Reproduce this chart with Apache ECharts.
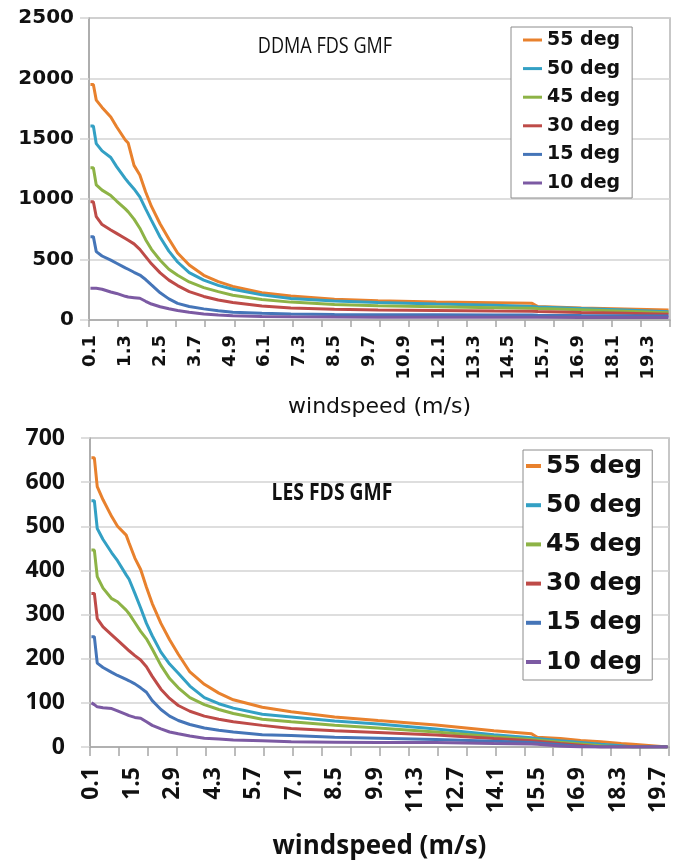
<!DOCTYPE html>
<html>
<head>
<meta charset="utf-8">
<script src="https://cdn.jsdelivr.net/npm/echarts@6/dist/echarts.min.js"></script>
<style>
  html, body { margin: 0; padding: 0; background: #ffffff; }
  #chart { width: 689px; height: 863px; }
</style>
</head>
<body>
<div id="chart"></div>
<script>
// Wind-speed categories, 0.1 m/s steps from 0.1 to 20.0
const speedStep = 0.1;
const speedCount = 200;
const windspeeds = [];
for (let i = 0; i < speedCount; i++) windspeeds.push(((i + 1) * speedStep).toFixed(1));

const seriesNames = ['55 deg', '50 deg', '45 deg', '30 deg', '15 deg', '10 deg'];
const seriesColors = ['#E8812D', '#33A0C4', '#8DB346', '#BE4B48', '#4575B8', '#7C5AA3'];

// DDMA FDS GMF curves
const ddmaSpeeds = [0.1, 0.2, 0.3, 0.5, 0.8, 1.0, 1.3, 1.4, 1.6, 1.8, 2.0, 2.2, 2.5, 2.8, 3.1, 3.5, 4.0, 4.5, 5.0, 6.0, 7.0, 8.5, 10.0, 12.0, 14.0, 15.3, 15.5, 17.0, 18.5, 20.0];
const ddma55 = [1950, 1950, 1820, 1760, 1680, 1600, 1490, 1465, 1280, 1200, 1060, 940, 795, 670, 555, 455, 370, 318, 278, 226, 198, 172, 160, 150, 143, 138, 112, 100, 92, 83];
const ddma50 = [1606, 1606, 1460, 1400, 1345, 1270, 1170, 1140, 1085, 1020, 920, 825, 685, 570, 480, 392, 330, 287, 255, 208, 178, 157, 145, 133, 122, 112, 108, 95, 82, 69];
const ddma45 = [1261, 1261, 1118, 1075, 1030, 985, 920, 895, 835, 760, 665, 585, 495, 420, 370, 315, 268, 235, 205, 170, 148, 128, 118, 110, 102, 97, 95, 84, 72, 60];
const ddma30 = [979, 979, 855, 790, 745, 717, 675, 660, 630, 585, 525, 465, 390, 330, 285, 235, 195, 165, 145, 115, 100, 88, 82, 78, 74, 72, 70, 62, 55, 47];
const ddma15 = [690, 690, 566, 530, 495, 470, 432, 420, 395, 372, 335, 290, 225, 175, 138, 112, 92, 76, 64, 55, 50, 46, 44, 43, 42, 41, 40, 37, 35, 33];
const ddma10 = [262, 262, 262, 255, 232, 220, 196, 190, 185, 180, 155, 132, 110, 93, 78, 64, 50, 41, 36, 29, 26, 24, 23, 23, 22, 22, 22, 21, 21, 20];

// LES FDS GMF curves
const lesSpeeds = [0.1, 0.2, 0.3, 0.5, 0.8, 1.0, 1.3, 1.4, 1.6, 1.8, 2.0, 2.2, 2.5, 2.8, 3.1, 3.5, 4.0, 4.5, 5.0, 6.0, 7.0, 8.5, 10.0, 12.0, 14.0, 15.3, 15.5, 16.3, 17.0, 17.7, 18.4, 18.8, 20.0];
const les55 = [655, 655, 590, 560, 522, 500, 480, 462, 428, 402, 362, 325, 280, 243, 210, 170, 142, 122, 107, 90, 80, 68, 60, 50, 37, 30, 22, 19, 15, 12, 8, 6, 0];
const les50 = [558, 558, 495, 470, 440, 422, 390, 380, 348, 315, 280, 252, 215, 188, 167, 138, 112, 98, 88, 74, 68, 59, 52, 41, 28, 21, 19, 14, 10, 6, 3, 0, 0];
const les45 = [446, 446, 386, 360, 336, 329, 310, 302, 282, 262, 245, 222, 185, 155, 134, 112, 96, 85, 76, 63, 57, 49, 43, 34, 23, 17, 16, 11, 7, 3, 0, 0, 0];
const les30 = [348, 348, 291, 272, 254, 242, 224, 218, 207, 197, 182, 160, 131, 110, 94, 81, 70, 63, 57, 49, 42, 37, 33, 27, 19, 14, 13, 8, 4, 0, 0, 0, 0];
const les15 = [250, 250, 190, 180, 169, 162, 153, 150, 143, 134, 124, 105, 85, 70, 60, 51, 43, 38, 34, 28, 26, 22, 20, 17, 13, 10, 9, 5, 1, 0, 0, 0, 0];
const les10 = [100, 96, 91, 89, 87, 82, 74, 71, 67, 65, 57, 49, 41, 34, 30, 25, 20, 18, 16, 14, 12, 11, 10, 10, 8, 7, 6, 2, 0, 0, 0, 0, 0];

const ddmaValues = [ddma55, ddma50, ddma45, ddma30, ddma15, ddma10];
const lesValues = [les55, les50, les45, les30, les15, les10];

const TOP_FONT = 'DejaVu Sans';
const BOTTOM_FONT = 'Open Sans';
const TITLE_FONT = 'Open Sans';
const INK = '#111111';
const AXIS_GREY = '#a6a6a6';
const GRID_GREY = '#d3d3d3';

function pairs(speeds, values) {
  return speeds.map((s, i) => [s.toFixed(1), values[i]]);
}

function lineSeries(idx, speeds, values, axisIndex) {
  return {
    name: seriesNames[idx],
    type: 'line',
    xAxisIndex: axisIndex,
    yAxisIndex: axisIndex,
    data: pairs(speeds, values),
    symbol: 'none',
    smooth: false,
    animation: false,
    color: seriesColors[idx],
    lineStyle: { width: 3, color: seriesColors[idx] }
  };
}

const series = [];
ddmaValues.forEach((v, i) => series.push(lineSeries(i, ddmaSpeeds, v, 0)));
lesValues.forEach((v, i) => series.push(lineSeries(i, lesSpeeds, v, 1)));

function xAxisFor(gridIndex, labelEvery, font, labelSize, labelMargin, tickLen, nameSize, nameWeight, nameGap) {
  return {
    gridIndex: gridIndex,
    type: 'category',
    data: windspeeds,
    boundaryGap: true,
    axisLine: { show: true, lineStyle: { color: AXIS_GREY, width: 1.5 } },
    axisTick: { show: true, interval: 9, length: tickLen, lineStyle: { color: AXIS_GREY, width: 1.5 } },
    axisLabel: {
      interval: labelEvery - 1, rotate: 90, margin: labelMargin,
      fontFamily: font, fontWeight: 'bold', fontSize: labelSize, color: INK
    },
    splitLine: { show: false },
    name: 'windspeed (m/s)',
    nameLocation: 'middle',
    nameGap: nameGap,
    nameTextStyle: { fontFamily: font, fontSize: nameSize, fontWeight: nameWeight, color: INK }
  };
}

function yAxisFor(gridIndex, max, step, font, labelSize, labelMargin) {
  return {
    gridIndex: gridIndex,
    type: 'value',
    min: 0, max: max, interval: step,
    axisLine: { show: true, lineStyle: { color: AXIS_GREY, width: 1.5 } },
    axisTick: { show: true, length: 9, lineStyle: { color: GRID_GREY, width: 1.5 } },
    axisLabel: {
      margin: labelMargin, fontFamily: font, fontWeight: 'bold', fontSize: labelSize, color: INK,
      formatter: (v) => String(v)
    },
    splitLine: { show: true, lineStyle: { color: GRID_GREY, width: 1.5 } }
  };
}

const option = {
  backgroundColor: '#ffffff',
  animation: false,
  grid: [
    { left: 89, top: 18, width: 581, height: 302, show: true, borderColor: '#b5b5b5', borderWidth: 1.5, backgroundColor: 'transparent' },
    { left: 90, top: 438, width: 579, height: 309, show: true, borderColor: '#b5b5b5', borderWidth: 1.5, backgroundColor: 'transparent' }
  ],
  xAxis: [
    xAxisFor(0, 12, TOP_FONT, 18, 15, 7, 22, 'normal', 76),
    xAxisFor(1, 14, BOTTOM_FONT, 23, 20, 9, 26, 'bold', 87)
  ],
  yAxis: [
    yAxisFor(0, 2500, 500, TOP_FONT, 20, 15),
    yAxisFor(1, 700, 100, BOTTOM_FONT, 23, 25)
  ],
  legend: [
    {
      data: seriesNames, selectedMode: false,
      orient: 'vertical', left: 511, top: 27,
      icon: 'rect', itemWidth: 19, itemHeight: 3, itemGap: 6.6,
      padding: [2, 12, 4, 12],
      borderColor: '#8c8c8c', borderWidth: 1, backgroundColor: '#ffffff',
      textStyle: { fontFamily: TOP_FONT, fontWeight: 'bold', fontSize: 19, lineHeight: 22, color: INK }
    },
    {
      data: seriesNames, selectedMode: false,
      orient: 'vertical', left: 523, top: 450,
      icon: 'rect', itemWidth: 15, itemHeight: 4, itemGap: 13.2,
      padding: [3, 10, 5, 3],
      borderColor: '#8c8c8c', borderWidth: 1, backgroundColor: '#ffffff',
      textStyle: { fontFamily: TOP_FONT, fontWeight: 'bold', fontSize: 25, lineHeight: 26, color: INK }
    }
  ],
  graphic: [
    {
      type: 'text', x: 325, y: 47, z: 10, scaleX: 0.86,
      style: { text: 'DDMA FDS GMF', fontFamily: TITLE_FONT, fontSize: 21, fill: INK, align: 'center', verticalAlign: 'middle' }
    },
    {
      type: 'text', x: 332, y: 493, z: 10, scaleX: 0.84,
      style: { text: 'LES FDS GMF', fontFamily: TITLE_FONT, fontSize: 23, fontWeight: 'bold', fill: INK, align: 'center', verticalAlign: 'middle' }
    }
  ],
  series: series
};

const chart = echarts.init(document.getElementById('chart'), null, { renderer: 'canvas' });
chart.setOption(option);
</script>
</body>
</html>
